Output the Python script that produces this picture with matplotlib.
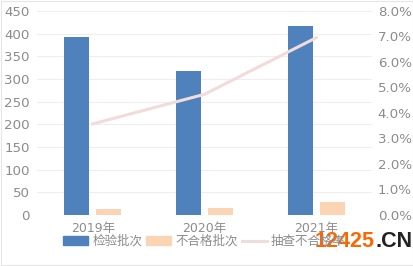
import matplotlib
matplotlib.use("Agg")
import matplotlib.pyplot as plt
import numpy as np
from matplotlib.patches import Patch, Rectangle
from matplotlib.lines import Line2D

plt.rcParams['font.family'] = ['DejaVu Sans', 'Noto Sans CJK SC']

categories = ['2019年', '2020年', '2021年']
inspected = [392, 317, 417]
unqualified = [14, 15, 29]
rate = [3.57, 4.73, 6.95]
left_ticks = [0, 50, 100, 150, 200, 250, 300, 350, 400, 450]
right_ticks = [0, 1, 2, 3, 4, 5, 6, 7, 8]

blue = '#4f81bd'
peach = '#fbd4b4'
pink = '#f2dcdb'
txt = '#8c8c8c'

fig = plt.figure(figsize=(4.14, 2.66), dpi=100)
ax = fig.add_axes([0.089, 0.192, 0.81, 0.767])
x = np.arange(len(categories))
w = 0.224
off = 0.143
ax.bar(x - off, inspected, w, color=blue, zorder=3)
ax.bar(x + off, unqualified, w, color=peach, zorder=3)
ax.set_xlim(-0.5, 2.5)
ax.set_ylim(0, 450)
ax.set_yticks(left_ticks)
ax.set_xticks(x)
ax.set_xticklabels(categories)
ax.grid(axis='y', color='#eeeeee', lw=0.8, zorder=0)
for s in ax.spines.values():
    s.set_visible(False)
ax.tick_params(axis='y', length=0, labelsize=9.6, labelcolor=txt, pad=5)
ax.tick_params(axis='x', length=0, labelsize=9, labelcolor=txt, pad=5)

ax2 = ax.twinx()
ax2.plot(x, rate, color=pink, lw=2.2, zorder=4)
ax2.set_ylim(0, 8)
ax2.set_yticks(right_ticks)
ax2.set_yticklabels([f'{v:.1f}%' for v in right_ticks])
for s in ax2.spines.values():
    s.set_visible(False)
ax2.tick_params(length=0, labelsize=9.6, labelcolor=txt, pad=4)

handles = [Patch(color=blue), Patch(color=peach), Line2D([], [], color=pink, lw=2.2)]
labels = ['检验批次', '不合格批次', '抽查不合格率']
fig.legend(handles, labels, loc='center left', bbox_to_anchor=(0.152, 0.092), ncol=3,
           frameon=False, fontsize=9, labelcolor=txt, handlelength=2.0,
           handleheight=0.65, columnspacing=0.3, handletextpad=0.35,
           borderpad=0, borderaxespad=0)

fig.text(0.906, 0.092, '12425', color='#ff6600', fontsize=15.5, fontweight='bold',
         family='Liberation Sans', ha='right', va='center')
fig.text(0.906, 0.092, '.CN', color='#222222', fontsize=15.5, fontweight='bold',
         family='Liberation Sans', ha='left', va='center')

fig.patches.append(Rectangle((0.002, 0.004), 0.996, 0.992, transform=fig.transFigure,
                             fill=False, ec='#e6e6e6', lw=0.8))
fig.savefig('out.png', dpi=100)
